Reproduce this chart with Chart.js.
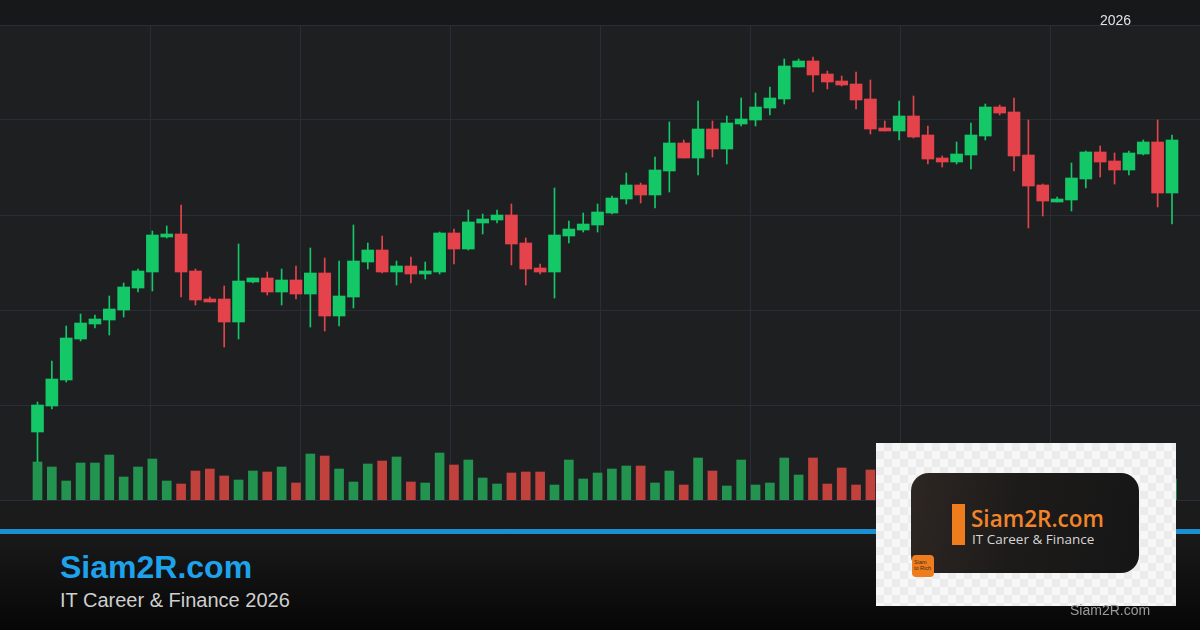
<!DOCTYPE html>
<html>
<head>
<meta charset="utf-8">
<script src="https://cdn.jsdelivr.net/npm/chart.js@4.4.1/dist/chart.umd.min.js"></script>
<style>
  html,body{margin:0;padding:0;}
  body{width:1200px;height:630px;position:relative;overflow:hidden;background:#1e1f21;font-family:"Liberation Sans",Arial,sans-serif;}
  #topband{position:absolute;left:0;top:0;width:1200px;height:25px;background:#17181a;}
  #plotbg{position:absolute;left:0;top:25px;width:1200px;height:475px;background:#1e1f21;}
  #below{position:absolute;left:0;top:500px;width:1200px;height:29px;background:#1b1b1c;}
  #blue{position:absolute;left:0;top:529px;width:1200px;height:5px;background:#1a8fd2;}
  #footer{position:absolute;left:0;top:534px;width:1200px;height:96px;background:linear-gradient(#1a1a1a,#060606);}
  #wrap{position:absolute;left:0;top:0;width:1200px;height:530px;}
  .t{position:absolute;white-space:nowrap;line-height:1;}
  #year{left:1100px;top:13px;font-size:14px;color:#e2e2e2;}
  #brand{left:60px;top:551px;font-size:32px;font-weight:bold;color:#1ea2ec;}
  #sub{left:60px;top:590px;font-size:20px;color:#cfcfcf;}
  #logo{position:absolute;left:876px;top:443px;width:300px;height:163px;
    background-color:#f7f7f7;
    background-image:linear-gradient(45deg,#ececec 25%,transparent 25%,transparent 75%,#ececec 75%),linear-gradient(45deg,#ececec 25%,transparent 25%,transparent 75%,#ececec 75%);
    background-size:16px 16px;background-position:0 0,8px 8px;}
  #card{position:absolute;left:35px;top:30px;width:228px;height:100px;border-radius:18px;background:linear-gradient(100deg,#2e2723 0%,#1d1b1a 45%,#161616 100%);}
  #obar{position:absolute;left:41px;top:31px;width:13px;height:41px;background:#f07d1d;}
  #otxt{position:absolute;left:60px;top:35px;font-size:22.5px;font-weight:600;color:#f0852c;white-space:nowrap;line-height:1;font-family:"Open Sans","Liberation Sans",sans-serif;}
  #otxt2{position:absolute;left:61px;top:60px;font-size:13.5px;color:#d6d6d6;white-space:nowrap;line-height:1;font-family:"Open Sans","Liberation Sans",sans-serif;}
  #osq{position:absolute;left:36px;top:112px;width:22px;height:22px;border-radius:4px;background:#f07d1d;color:#3a2a1a;font-size:5.5px;line-height:6px;padding:4px 0 0 2px;box-sizing:border-box;}
  #wm{left:1070px;top:603px;font-size:14px;color:#9a9a9a;}
</style>
</head>
<body>
<div id="topband"></div>
<div id="plotbg"></div>
<div id="below"></div>
<div id="blue"></div>
<div id="footer"></div>
<div id="wrap"><canvas id="c"></canvas></div>
<div class="t" id="year">2026</div>
<div class="t" id="brand">Siam2R.com</div>
<div class="t" id="sub">IT Career &amp; Finance 2026</div>
<div id="logo">
  <div id="card">
    <div id="obar"></div>
    <div id="otxt">Siam2R.com</div>
    <div id="otxt2">IT Career &amp; Finance</div>
  </div>
  <div id="osq">Siam<br>to Rich</div>
</div>
<div class="t" id="wm">Siam2R.com</div>
<script>
// Candle data (index order)
const opens  = [106.8,109.4,112.0,116.1,117.6,118.0,119.0,121.2,122.8,126.3,126.6,122.9,120.1,120.1,117.8,121.8,122.2,120.8,122.0,120.6,
                122.7,118.4,120.3,123.8,125.0,122.8,123.4,122.6,122.8,126.7,125.1,127.7,128.0,128.5,125.7,123.2,122.8,126.4,127.0,127.5,
                128.7,130.1,131.5,130.5,132.9,135.7,134.2,137.1,135.1,137.6,138.0,139.2,140.1,143.3,143.9,142.6,141.9,141.6,140.1,137.2,
                136.9,138.4,136.5,134.2,133.8,134.5,136.4,139.3,138.8,134.5,131.5,129.8,130.0,132.1,134.8,133.9,133.0,134.6,135.8,130.7];
const highs  = [109.8,113.9,117.4,118.6,118.5,120.4,121.7,123.1,126.9,127.4,129.5,123.1,120.3,121.4,125.6,122.2,122.8,123.1,123.4,125.2,
                124.2,123.9,127.5,125.7,126.4,123.9,124.3,123.8,126.8,127.1,129.0,128.6,129.0,129.6,126.2,123.6,131.2,127.9,128.7,129.6,
                130.4,132.7,131.7,134.3,137.8,136.0,139.9,137.9,138.4,140.2,140.7,141.3,144.1,144.1,144.3,142.9,142.4,142.8,142.0,137.9,
                139.9,140.4,137.4,134.4,135.8,137.7,139.6,139.5,140.2,138.0,131.6,130.3,133.7,134.9,135.4,134.7,134.9,136.0,138.0,136.5];
const lows   = [103.8,109.1,111.8,115.9,117.2,116.5,118.3,120.8,120.9,126.2,120.3,119.5,119.8,115.3,116.1,121.7,120.5,119.5,120.1,117.3,
                116.9,117.4,119.2,123.1,122.7,121.5,121.7,122.1,122.6,123.6,125.0,126.6,127.7,123.5,121.5,122.6,120.2,125.7,126.8,126.8,
                128.6,129.6,129.7,129.2,130.8,134.2,132.5,134.3,133.6,137.4,137.4,138.5,139.6,143.3,140.8,141.1,141.4,139.1,136.6,136.9,
                136.0,136.2,133.6,133.3,133.6,133.1,136.0,138.5,132.9,127.2,128.4,129.8,128.9,131.2,132.3,131.6,132.5,134.5,129.3,127.6];
const closes = [109.5,112.1,116.2,117.7,118.1,119.1,121.3,122.9,126.5,126.6,122.8,120.0,119.8,117.8,121.9,122.2,120.8,122.0,120.6,122.7,
                118.4,120.4,123.9,125.0,122.8,123.4,122.6,122.9,126.7,125.1,127.8,128.1,128.5,125.6,123.1,122.8,126.5,127.1,127.6,128.8,
                130.2,131.5,130.5,133.0,135.7,134.2,137.1,135.1,137.7,138.1,139.3,140.2,143.4,143.9,142.5,141.8,141.5,140.0,137.1,136.9,
                138.4,136.3,134.1,133.8,134.6,136.5,139.3,138.7,134.4,131.4,129.9,130.1,132.2,134.8,133.8,133.0,134.7,135.8,130.7,136.0];
const volumes = [38,33,19,37,37,45,23,33,41,19,16,29,31,24,20,29,28,33,17,46,
                 44,31,18,36,39,43,18,17,47,35,40,22,16,27,28,28,15,40,21,27,
                 31,34,34,17,29,15,42,29,14,40,15,17,42,25,42,16,32,15,30,24,
                 30,26,34,18,22,28,36,20,40,44,30,16,26,32,24,20,28,22,38,21];
const priceGrid = [100,109.5,119,128.5,138,147.5];
const timeGrid  = [1,2,3,4,5,6,7];

const UP='#14c767', DN='#e5434c', VUP='#22944f', VDN='#c1423d', GRID='#2a2d38';
const idx = opens.map((_, i) => i);
const isUp = idx.map(i => closes[i] >= opens[i]);

new Chart(document.getElementById('c'), {
  type: 'bar',
  data: {
    datasets: [
      { label:'body', order:0, xAxisID:'x', yAxisID:'y', grouped:false, barThickness:12, minBarLength:1, borderWidth:0,
        data: idx.map(i => ({x:i, y:[opens[i], closes[i]]})),
        backgroundColor: idx.map(i => isUp[i] ? UP : DN) },
      { label:'wick', order:1, xAxisID:'x', yAxisID:'y', grouped:false, barThickness:1, borderWidth:0,
        data: idx.map(i => ({x:i, y:[lows[i], highs[i]]})),
        backgroundColor: idx.map(i => isUp[i] ? UP : DN) },
      { label:'volume', order:2, xAxisID:'x', yAxisID:'yv', grouped:false, barThickness:9, borderWidth:0,
        data: idx.map(i => ({x:i, y:volumes[i]})),
        backgroundColor: idx.map(i => isUp[i] ? VUP : VDN) }
    ]
  },
  options: {
    responsive:true, maintainAspectRatio:false, animation:false,
    layout:{padding:{top:25,bottom:30,left:0,right:0}},
    plugins:{legend:{display:false}, tooltip:{enabled:false}},
    scales:{
      x:{type:'linear', min:-2.611, max:80.95, offset:false, display:false},
      xg:{type:'linear', position:'bottom', min:0, max:8, offset:false, display:true,
          afterBuildTicks: s => { s.ticks = timeGrid.map(v => ({value:v})); },
          ticks:{display:false}, grid:{color:GRID, drawTicks:false, offset:false, lineWidth:1}, border:{display:false}},
      y:{type:'linear', position:'left', min:100, max:147.5, display:true,
          afterBuildTicks: s => { s.ticks = priceGrid.map(v => ({value:v})); },
          ticks:{display:false}, grid:{color:GRID, drawTicks:false, lineWidth:1}, border:{display:false}},
      yv:{type:'linear', position:'right', min:0, max:475, display:false}
    }
  }
});
</script>
</body>
</html>
